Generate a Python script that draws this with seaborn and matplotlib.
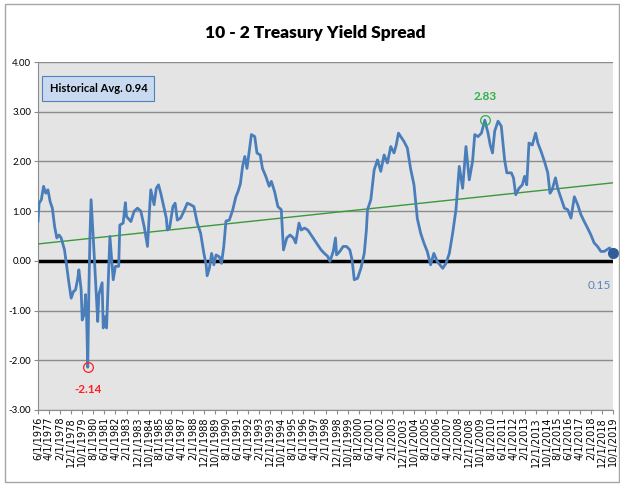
import pandas as pd
import numpy as np
import seaborn as sns
import matplotlib.pyplot as plt
from matplotlib.patches import Rectangle

# data (month, spread in %)
dates = [
    "1976-06", "1976-07", "1976-09", "1976-11", "1977-01", "1977-03", "1977-05", "1977-07",
    "1977-09", "1977-11", "1978-01", "1978-03", "1978-06", "1978-08", "1978-10", "1978-12",
    "1979-02", "1979-04", "1979-06", "1979-07", "1979-09", "1979-10", "1979-12", "1980-01",
    "1980-02", "1980-03", "1980-04", "1980-05", "1980-06", "1980-08", "1980-10", "1980-12",
    "1981-01", "1981-04", "1981-05", "1981-07", "1981-08", "1981-11", "1982-02", "1982-04",
    "1982-07", "1982-08", "1982-11", "1983-01", "1983-02", "1983-05", "1983-06", "1983-09",
    "1983-12", "1984-03", "1984-06", "1984-09", "1984-11", "1984-12", "1985-03", "1985-05",
    "1985-07", "1985-09", "1985-12", "1986-02", "1986-03", "1986-05", "1986-08", "1986-10",
    "1986-12", "1987-03", "1987-06", "1987-09", "1987-12", "1988-03", "1988-06", "1988-09",
    "1988-12", "1989-02", "1989-03", "1989-05", "1989-07", "1989-09", "1989-11", "1990-02",
    "1990-04", "1990-06", "1990-08", "1990-11", "1991-02", "1991-05", "1991-07", "1991-09",
    "1991-11", "1992-01", "1992-03", "1992-05", "1992-07", "1992-10", "1992-12", "1993-03",
    "1993-05", "1993-08", "1993-11", "1994-01", "1994-04", "1994-07", "1994-10", "1994-12",
    "1995-03", "1995-06", "1995-09", "1995-11", "1996-02", "1996-04", "1996-07", "1996-10",
    "1997-01", "1997-05", "1997-10", "1998-01", "1998-04", "1998-06", "1998-09", "1998-11",
    "1998-12", "1999-03", "1999-06", "1999-09", "1999-12", "2000-02", "2000-04", "2000-07",
    "2000-10", "2001-01", "2001-03", "2001-04", "2001-07", "2001-10", "2002-01", "2002-04",
    "2002-07", "2002-10", "2003-01", "2003-04", "2003-06", "2003-08", "2003-10", "2004-01",
    "2004-04", "2004-07", "2004-10", "2005-01", "2005-04", "2005-07", "2005-10", "2006-01",
    "2006-04", "2006-07", "2006-12", "2007-03", "2007-06", "2007-09", "2007-12", "2008-03",
    "2008-06", "2008-09", "2008-12", "2009-03", "2009-05", "2009-08", "2009-11", "2010-02",
    "2010-05", "2010-07", "2010-09", "2010-11", "2011-02", "2011-05", "2011-08", "2011-10",
    "2012-02", "2012-04", "2012-06", "2012-09", "2012-12", "2013-02", "2013-04", "2013-06",
    "2013-09", "2013-12", "2014-02", "2014-05", "2014-08", "2014-11", "2015-01", "2015-03",
    "2015-06", "2015-08", "2015-11", "2016-02", "2016-05", "2016-08", "2016-11", "2017-02",
    "2017-05", "2017-08", "2017-11", "2018-02", "2018-05", "2018-08", "2018-11", "2019-02",
    "2019-07", "2019-10",
]
spread = [
    0.80, 1.16, 1.23, 1.50, 1.36, 1.43, 1.19, 1.06,
    0.69, 0.46, 0.52, 0.46, 0.22, -0.11, -0.45, -0.75,
    -0.62, -0.58, -0.35, -0.18, -0.58, -1.19, -1.05, -0.68,
    -1.19, -2.14, -0.60, 0.50, 1.23, 0.45, -0.38, -1.22,
    -0.68, -0.44, -1.35, -1.12, -1.35, 0.49, -0.38, -0.11,
    -0.11, 0.72, 0.76, 1.17, 0.89, 0.82, 0.79, 1.00,
    1.06, 1.00, 0.69, 0.29, 1.09, 1.43, 1.13, 1.46,
    1.53, 1.36, 1.06, 0.86, 0.62, 0.66, 1.09, 1.16,
    0.82, 0.86, 1.00, 1.16, 1.13, 1.09, 0.76, 0.56,
    0.15, -0.08, -0.30, -0.15, 0.15, -0.08, 0.12, 0.08,
    -0.05, 0.29, 0.80, 0.82, 1.02, 1.29, 1.40, 1.55,
    1.90, 2.10, 1.86, 2.20, 2.54, 2.50, 2.17, 2.13,
    1.86, 1.70, 1.50, 1.60, 1.39, 1.09, 1.03, 0.22,
    0.46, 0.52, 0.46, 0.36, 0.76, 0.62, 0.66, 0.62,
    0.52, 0.39, 0.22, 0.15, 0.09, -0.01, 0.19, 0.46,
    0.12, 0.19, 0.29, 0.29, 0.22, 0.02, -0.38, -0.35,
    -0.15, 0.15, 0.62, 1.03, 1.23, 1.83, 2.03, 1.80,
    2.13, 1.97, 2.30, 2.17, 2.33, 2.57, 2.50, 2.40,
    2.27, 1.85, 1.53, 0.85, 0.56, 0.36, 0.19, -0.08,
    0.15, -0.01, -0.15, -0.05, 0.15, 0.56, 1.03, 1.90,
    1.46, 2.30, 1.63, 2.00, 2.54, 2.50, 2.57, 2.83,
    2.57, 2.33, 2.17, 2.61, 2.81, 2.71, 2.03, 1.77,
    1.77, 1.67, 1.33, 1.46, 1.53, 1.70, 1.53, 2.37,
    2.33, 2.57, 2.37, 2.20, 2.00, 1.77, 1.36, 1.43,
    1.67, 1.46, 1.26, 1.06, 1.03, 0.86, 1.29, 1.13,
    0.93, 0.79, 0.66, 0.52, 0.36, 0.29, 0.19, 0.19,
    0.26, 0.15,
]
trend_ends = [0.34, 1.57]
hist_avg = 0.94

df = pd.DataFrame({"date": pd.to_datetime(dates), "spread": spread})
tick_dates = pd.date_range("1976-06-01", "2019-10-01", freq="10MS")
tick_labels = [f"{d.month}/1/{d.year}" for d in tick_dates]

plt.rcParams["font.family"] = ["Lato", "DejaVu Sans"]

fig = plt.figure(figsize=(6.2, 4.84), dpi=100)
ax = fig.add_axes([0.0613, 0.1529, 0.9274, 0.719])
ax.set_facecolor("#e4e4e4")

# chart border
fig.patches.append(Rectangle((0.008, 0.004), 0.99, 0.988, transform=fig.transFigure,
                             fill=False, edgecolor="#a6a6a6", lw=1))

for y in range(-3, 5):
    ax.axhline(y, color="#8c8c8c", lw=1, zorder=1)
ax.axhline(0, color="black", lw=2.5, zorder=2)

ax.plot([df.date.iloc[0], df.date.iloc[-1]], trend_ends, color="#3a9a3a", lw=1, zorder=3)
sns.lineplot(data=df, x="date", y="spread", ax=ax, color="#4a7ebb", lw=2, zorder=4)

# highlight points
imax = df.spread.idxmax()
imin = df.spread.idxmin()
ax.plot(df.date[imax], df.spread[imax], "o", ms=7, mfc="none", mec="#2db04b", mew=0.9, zorder=5)
ax.plot(df.date[imin], df.spread[imin], "o", ms=7, mfc="none", mec="#ff2020", mew=0.9, zorder=5)
ax.annotate(f"{df.spread[imax]:.2f}", (df.date[imax], df.spread[imax]), xytext=(0, 17),
            textcoords="offset points", ha="center", va="center", color="#2db04b",
            fontsize=8.5, fontweight="bold")
ax.annotate(f"{df.spread[imin]:.2f}", (df.date[imin], df.spread[imin]), xytext=(0, -16),
            textcoords="offset points", ha="center", va="center", color="#ff2020",
            fontsize=8.5, fontweight="bold")
ax.plot(df.date.iloc[-1], df.spread.iloc[-1], "o", ms=7, color="#2e5d99", zorder=6, clip_on=False)
ax.annotate(f"{df.spread.iloc[-1]:.2f}", (df.date.iloc[-1], df.spread.iloc[-1]), xytext=(-10, -23),
            textcoords="offset points", ha="center", va="center", color="#5a84bd", fontsize=8.5)

# historical average box
ax.text(0.02, 3.47, f"Historical Avg. {hist_avg:.2f}", transform=ax.get_yaxis_transform(),
        fontsize=8, fontweight="bold", va="center", ha="left", zorder=7,
        bbox=dict(boxstyle="square,pad=0.65", facecolor="#c9daf0", edgecolor="#4f81bd", lw=0.8))

ax.set_ylim(-3, 4)
ax.set_yticks(range(-3, 5))
ax.set_yticklabels([f"{v:.2f}" for v in range(-3, 5)], fontsize=7)
ax.set_xlim(df.date.iloc[0], df.date.iloc[-1])
ax.set_xticks(tick_dates)
ax.set_xticklabels(tick_labels, rotation=90, fontsize=7, family=["DejaVu Sans"])
ax.tick_params(axis="both", length=3, color="#8c8c8c", pad=2)
ax.set_xlabel("")
ax.set_ylabel("")
for s in ["top", "right"]:
    ax.spines[s].set_visible(False)
ax.spines["left"].set_color("#8c8c8c")
ax.spines["bottom"].set_color("#8c8c8c")

fig.text(0.508, 0.932, "10 - 2 Treasury Yield Spread", ha="center", va="center",
         fontsize=12.5, fontweight="heavy")

plt.savefig("out.png", dpi=100)
